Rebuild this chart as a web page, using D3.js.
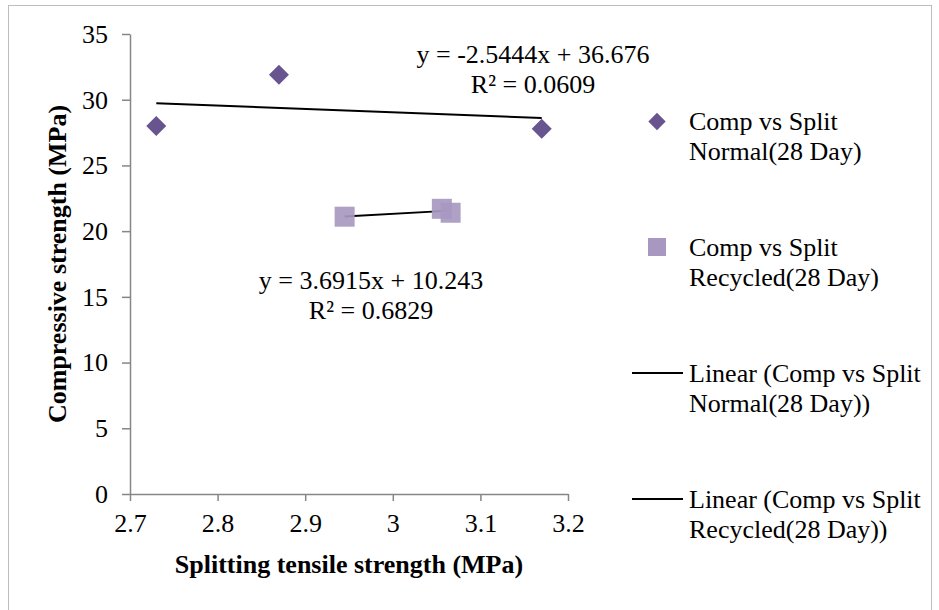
<!DOCTYPE html>
<html lang="en">
<head>
  <meta charset="UTF-8" />
  <title>Compressive vs splitting tensile strength</title>
  <style>
    body {
      margin: 0;
      background: #fff;
    }
    svg text {
      font-family: "Liberation Serif", "Times New Roman", Times, Tinos, "DejaVu Serif", serif;
      fill: #000;
    }
    .axis path, .axis line {
      stroke: #868686;
      stroke-width: 1.5px;
    }
    .axis text {
      font-family: "Liberation Serif", "Times New Roman", Times, Tinos, "DejaVu Serif", serif;
      font-size: 26px;
    }
    .title {
      font-size: 26px;
      font-weight: bold;
    }
    .eq, .legend text {
      font-size: 26px;
    }
    .trend {
      stroke: #000;
      stroke-width: 2px;
      fill: none;
    }
  </style>
</head>
<body>
  <svg id="chart"></svg>

  <script src="https://d3js.org/d3.v7.min.js"></script>
  <script>
    // values
    const normalX = [2.73, 2.87, 3.17];
    const normalY = [28.0, 31.9, 27.8];
    const recycledX = [2.945, 3.056, 3.066];
    const recycledY = [21.1, 21.7, 21.4];

    // trendline coefficients [slope, intercept] as printed on the chart
    const normalFit = [-2.5444, 36.676];
    const recycledFit = [3.6915, 10.243];

    const xTicks = [2.7, 2.8, 2.9, 3, 3.1, 3.2];
    const yTicks = [0, 5, 10, 15, 20, 25, 30, 35];

    const eqLabels = [
      ["y = -2.5444x + 36.676", "R\u00b2 = 0.0609"],
      ["y = 3.6915x + 10.243", "R\u00b2 = 0.6829"]
    ];
    const legendLabels = [
      ["Comp vs Split", "Normal(28 Day)"],
      ["Comp vs Split", "Recycled(28 Day)"],
      ["Linear (Comp vs Split", "Normal(28 Day))"],
      ["Linear (Comp vs Split", "Recycled(28 Day))"]
    ];

    const W = 939, H = 610;
    const normalColor = "#68548f";
    const recycledColor = "#a898c1";

    const svg = d3.select("#chart").attr("width", W).attr("height", H);

    // outer frame
    svg.append("rect")
      .attr("x", 8.5).attr("y", 5.5)
      .attr("width", 923).attr("height", 700)
      .attr("fill", "none")
      .attr("stroke", "#bdbdbd");

    const x = d3.scaleLinear().domain([2.7, 3.2]).range([130, 568]);
    const y = d3.scaleLinear().domain([0, 35]).range([494, 34]);

    svg.append("g")
      .attr("class", "axis")
      .attr("transform", "translate(0,494)")
      .call(d3.axisBottom(x).tickValues(xTicks).tickSize(7).tickSizeOuter(0).tickPadding(12.5)
        .tickFormat(d3.format("")))
      .call(g => g.selectAll("text").attr("font-family", null).attr("font-size", null));

    svg.append("g")
      .attr("class", "axis")
      .attr("transform", "translate(130,0)")
      .call(d3.axisLeft(y).tickValues(yTicks).tickSize(8).tickSizeOuter(0).tickPadding(14))
      .call(g => g.selectAll("text").attr("font-family", null).attr("font-size", null));

    // axis titles
    svg.append("text")
      .attr("class", "title")
      .attr("x", 349).attr("y", 573)
      .attr("text-anchor", "middle")
      .text("Splitting tensile strength (MPa)");

    svg.append("text")
      .attr("class", "title")
      .attr("transform", "translate(66,264) rotate(-90)")
      .attr("text-anchor", "middle")
      .text("Compressive strength (MPa)");

    // trendlines
    function trend(xs, fit) {
      const x0 = d3.min(xs), x1 = d3.max(xs);
      return [[x0, fit[0] * x0 + fit[1]], [x1, fit[0] * x1 + fit[1]]];
    }
    const line = d3.line().x(d => x(d[0])).y(d => y(d[1]));

    svg.append("path").attr("class", "trend").attr("d", line(trend(normalX, normalFit)));
    svg.append("path").attr("class", "trend").attr("d", line(trend(recycledX, recycledFit)));

    // markers
    const diamond = d3.symbol().type(d3.symbolSquare).size(200);
    svg.append("g").selectAll("path")
      .data(normalX.map((v, i) => [v, normalY[i]]))
      .join("path")
      .attr("d", diamond)
      .attr("fill", normalColor)
      .attr("transform", d => `translate(${x(d[0])},${y(d[1])}) rotate(45)`);

    svg.append("g").selectAll("rect")
      .data(recycledX.map((v, i) => [v, recycledY[i]]))
      .join("rect")
      .attr("x", d => x(d[0]) - 10)
      .attr("y", d => y(d[1]) - 10)
      .attr("width", 20).attr("height", 20)
      .attr("fill", recycledColor)
      .attr("fill-opacity", 0.92);

    // trendline equations
    const eqPos = [[533, 63], [371, 289]];
    eqLabels.forEach((lines, i) => {
      lines.forEach((t, j) => {
        svg.append("text")
          .attr("class", "eq")
          .attr("x", eqPos[i][0])
          .attr("y", eqPos[i][1] + j * 29.5)
          .attr("text-anchor", "middle")
          .text(t);
      });
    });

    // legend
    const legend = svg.append("g").attr("class", "legend");
    const legendY = [121.5, 247, 373, 499];
    legendLabels.forEach((lines, i) => {
      const cy = legendY[i];
      if (i === 0) {
        legend.append("path")
          .attr("d", d3.symbol().type(d3.symbolSquare).size(150))
          .attr("fill", normalColor)
          .attr("transform", `translate(657,${cy}) rotate(45)`);
      } else if (i === 1) {
        legend.append("rect")
          .attr("x", 648).attr("y", cy - 9)
          .attr("width", 18).attr("height", 18)
          .attr("fill", recycledColor);
      } else {
        legend.append("line")
          .attr("x1", 632).attr("x2", 683)
          .attr("y1", cy).attr("y2", cy)
          .attr("stroke", "#000").attr("stroke-width", 2);
      }
      lines.forEach((t, j) => {
        legend.append("text")
          .attr("x", 689)
          .attr("y", cy + 8.5 + j * 30)
          .text(t);
      });
    });
  </script>
</body>
</html>
